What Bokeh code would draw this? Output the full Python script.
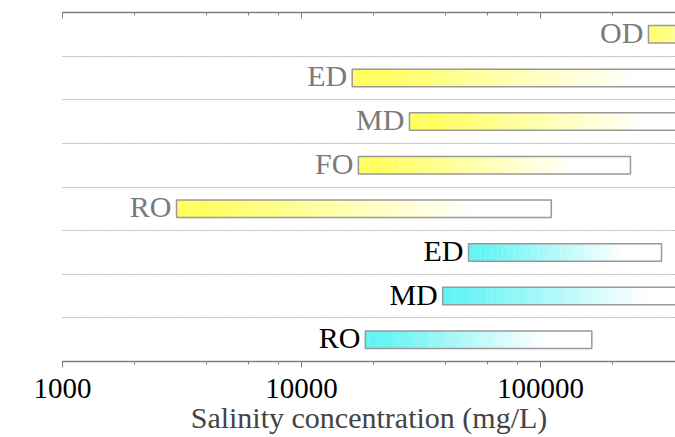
from bokeh.plotting import figure
from bokeh.models import Range1d, LogAxis, LogTicker, FixedTicker, Grid, PrintfTickFormatter, ColumnDataSource
from bokeh.core.properties import value
from bokeh.embed import file_html
from bokeh.resources import INLINE

# ---- data (top row first) ----
processes = ["OD", "ED", "MD", "FO", "RO", "ED", "MD", "RO"]
groups = ["yellow", "yellow", "yellow", "yellow", "yellow", "cyan", "cyan", "cyan"]
salinity_min = [283000, 16300, 28300, 17300, 3000, 50000, 39000, 18500]
salinity_max = [600000, 500000, 500000, 238000, 111000, 321000, 450000, 164000]
x_ticks = [1000, 10000, 100000]

FONT = "Liberation Serif"
base_rgb = {"yellow": (255, 255, 95), "cyan": (100, 244, 244)}
label_color = {"yellow": "#7a7a7a", "cyan": "#000000"}

n = len(processes)
rows = [n - 0.5 - i for i in range(n)]

p = figure(width=675, height=437, x_axis_type="log",
           x_range=Range1d(1000, 10 ** 5.565), y_range=Range1d(0, n),
           y_axis_location=None, output_backend="svg", toolbar_location=None,
           min_border_left=62, min_border_right=0, min_border_top=12, min_border_bottom=76)
p.outline_line_color = None
p.xgrid.visible = False
p.background_fill_color = "white"

# horizontal dotted separators between rows
grid = Grid(dimension=1, ticker=FixedTicker(ticks=list(range(1, n))),
            grid_line_color="#9a9a9a", grid_line_dash="1 2", grid_line_width=1)
p.add_layout(grid, "center")

# gradient bars (colour fades to white along the bar)
SEG = 80
bh = 0.4
gl, gr, gb, gt, gc = [], [], [], [], []
for i in range(n):
    s, e = salinity_min[i], salinity_max[i]
    r0, g0, b0 = base_rgb[groups[i]]
    for k in range(SEG):
        a = s * (e / s) ** (k / SEG)
        b = s * (e / s) ** ((k + 1) / SEG)
        t = (k + 0.5) / SEG
        f = min(max((t - 0.08) / 0.72, 0.0), 1.0)
        col = "#%02x%02x%02x" % (int(r0 + (255 - r0) * f), int(g0 + (255 - g0) * f), int(b0 + (255 - b0) * f))
        gl.append(a); gr.append(b * 1.002); gb.append(rows[i] - bh / 2); gt.append(rows[i] + bh / 2); gc.append(col)
p.quad(left=gl, right=gr, bottom=gb, top=gt, fill_color=gc, line_color=None)

src = ColumnDataSource(dict(left=salinity_min, right=salinity_max,
                            bottom=[r - bh / 2 for r in rows], top=[r + bh / 2 for r in rows],
                            y=rows, label=processes,
                            tcol=[label_color[g] for g in groups]))
p.quad(left="left", right="right", bottom="bottom", top="top", source=src,
       fill_color=None, line_color="#999999", line_width=1.5)
p.text(x="left", y="y", text="label", source=src, x_offset=-5, y_offset=-2,
       text_align="right", text_baseline="middle", text_color="tcol",
       text_font=value(FONT), text_font_size="30px")

# bottom axis
ax = p.xaxis[0]
ax.ticker = LogTicker(desired_num_ticks=3)
ax.formatter = PrintfTickFormatter(format="%d")
ax.axis_label = "Salinity concentration (mg/L)"
ax.axis_label_text_font = FONT
ax.axis_label_text_font_style = "normal"
ax.axis_label_text_font_size = "30px"
ax.axis_label_standoff = 0
ax.major_label_text_font = FONT
ax.major_label_text_font_size = "29px"
ax.major_label_text_color = "black"
ax.major_label_standoff = 11
ax.axis_line_color = "#808080"
ax.axis_line_width = 1.5
ax.major_tick_line_color = "#808080"
ax.minor_tick_line_color = "#808080"
ax.major_tick_in = 0
ax.major_tick_out = 6
ax.minor_tick_in = 0
ax.minor_tick_out = 3

# top axis (ticks inward, no visible labels)
top = LogAxis(ticker=LogTicker(desired_num_ticks=3), formatter=PrintfTickFormatter(format="%d"),
              major_label_text_font_size="2px", major_label_text_color=None,
              major_label_standoff=0, axis_line_color="#808080", axis_line_width=1.5,
              major_tick_line_color="#808080", minor_tick_line_color="#808080",
              major_tick_in=6, major_tick_out=0, minor_tick_in=3, minor_tick_out=0)
p.add_layout(top, "above")

open("out.html", "w").write(file_html(p, INLINE))
